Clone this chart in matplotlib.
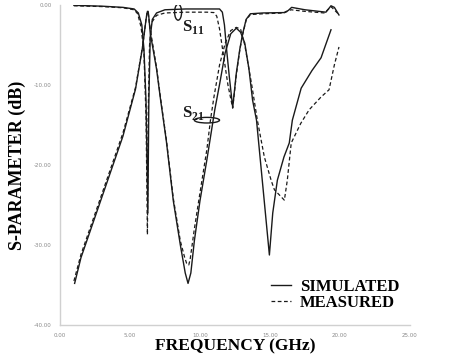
import matplotlib
matplotlib.use("Agg")
import matplotlib.pyplot as plt
from matplotlib.patches import Ellipse

plt.rcParams['axes.unicode_minus'] = False
plt.rcParams['mathtext.fontset'] = 'custom'
plt.rcParams['mathtext.rm'] = 'Liberation Serif'
plt.rcParams['mathtext.bf'] = 'Liberation Serif:bold'

# S21 simulated
s21_sim_f = [1.05, 1.5, 3.0, 4.5, 5.4, 5.9, 6.15, 6.25, 6.3, 6.35, 6.45, 6.9, 7.2, 7.6, 8.1,
             8.6, 8.95, 9.15, 9.35, 9.6, 10.0, 10.5, 11.06, 11.42, 11.8, 12.2, 12.6, 12.9,
             13.2, 13.5, 13.76, 14.04, 14.5, 14.96, 15.2, 15.53, 16.0, 16.38, 16.6, 17.23,
             18.0, 18.65, 19.36]
s21_sim_db = [-34.8, -31.6, -24.0, -16.4, -10.5, -5.3, -1.8, -0.8, -0.8, -1.5, -3.5, -8.0,
              -12.0, -17.0, -24.5, -30.0, -33.5, -34.8, -33.5, -29.5, -24.5, -19.3, -13.1,
              -9.75, -6.0, -3.6, -2.9, -3.4, -4.75, -8.0, -11.9, -14.4, -22.8, -31.25, -26.0,
              -21.9, -19.0, -17.25, -14.4, -10.4, -8.2, -6.6, -3.1]

# S21 measured
s21_meas_f = [1.0, 1.5, 3.0, 4.5, 5.4, 5.9, 6.15, 6.22, 6.3, 6.4, 6.9, 7.2, 7.6, 8.1, 8.6,
              8.9, 9.05, 9.2, 9.3, 9.6, 10.0, 10.5, 10.75, 11.0, 11.4, 11.8, 12.2, 12.6, 12.9,
              13.2, 13.7, 14.1, 14.6, 15.1, 15.32, 16.03, 16.24, 16.52, 17.2, 17.8, 18.65,
              19.22, 19.6, 19.93]
s21_meas_db = [-34.5, -31.2, -23.6, -16.0, -10.3, -5.2, -1.8, -0.9, -0.9, -2.5, -7.8, -11.8,
               -16.8, -24.2, -29.5, -31.5, -32.3, -32.5, -31.8, -28.0, -23.5, -18.0, -14.4,
               -11.5, -7.5, -4.8, -3.2, -2.8, -3.0, -5.0, -10.0, -14.4, -19.0, -22.0, -23.1,
               -24.4, -21.9, -17.25, -14.8, -13.1, -11.5, -10.6, -7.5, -5.25]

# S11 simulated
s11_sim_f = [1.0, 3.0, 4.5, 5.3, 5.6, 5.85, 6.0, 6.15, 6.28, 6.35, 6.45, 6.6, 6.9, 7.5, 9.0,
             10.5, 11.4, 11.6, 11.75, 11.9, 12.1, 12.34, 12.6, 12.85, 13.05, 13.3, 13.6,
             14.5, 16.0, 16.3, 16.55, 17.5, 19.0, 19.36, 19.6, 19.93]
s11_sim_db = [-0.05, -0.15, -0.3, -0.5, -1.0, -2.5, -5.5, -12.0, -26.0, -12.0, -4.0, -1.8,
              -1.0, -0.6, -0.5, -0.5, -0.5, -0.9, -2.5, -5.5, -9.0, -12.8, -8.5, -5.5, -3.6,
              -1.8, -1.1, -1.0, -0.95, -0.7, -0.3, -0.6, -0.9, -0.1, -0.3, -1.25]

# S11 measured
s11_meas_f = [1.0, 3.0, 4.5, 5.3, 5.55, 5.8, 6.0, 6.15, 6.25, 6.3, 6.4, 6.55, 6.9, 7.5, 9.0,
              10.5, 11.0, 11.2, 11.4, 11.7, 12.0, 12.34, 12.6, 12.85, 13.05, 13.3, 13.6, 14.5,
              16.0, 16.5, 17.5, 18.9, 19.36, 19.93]
s11_meas_db = [-0.1, -0.2, -0.35, -0.6, -1.1, -2.8, -6.0, -14.0, -28.7, -14.0, -5.0, -2.2,
               -1.3, -1.0, -0.9, -0.9, -0.95, -1.4, -3.0, -6.5, -10.0, -12.9, -8.7, -5.6,
               -3.7, -1.9, -1.2, -1.1, -1.0, -0.6, -0.8, -1.0, -0.2, -1.2]

x_ticks = [0, 5, 10, 15, 20, 25]
y_ticks = [0, -10, -20, -30, -40]

fig = plt.figure(figsize=(4.54, 3.55), dpi=100)
ax = fig.add_axes([0.132, 0.0845, 0.771, 0.9015])

ax.plot(s21_sim_f, s21_sim_db, color='#1a1a1a', lw=1.0, label='SIMULATED')
ax.plot(s21_meas_f, s21_meas_db, color='#1a1a1a', lw=0.9, ls=(0, (3, 2)), label='MEASURED')
ax.plot(s11_sim_f, s11_sim_db, color='#1a1a1a', lw=1.0)
ax.plot(s11_meas_f, s11_meas_db, color='#1a1a1a', lw=0.9, ls=(0, (3, 2)))

ax.set_xlim(0, 25)
ax.set_ylim(-40, 0)
ax.set_xticks(x_ticks)
ax.set_yticks(y_ticks)
ax.set_xticklabels(['%.2f' % v for v in x_ticks])
ax.set_yticklabels(['%.2f' % v for v in y_ticks])
ax.tick_params(axis='both', labelsize=4, labelcolor='#888888', color='#cccccc', length=0)
ax.tick_params(axis='x', pad=6)
ax.tick_params(axis='y', pad=6)

for s in ['top', 'right']:
    ax.spines[s].set_visible(False)
for s in ['left', 'bottom']:
    ax.spines[s].set_color('#d0d0d0')
    ax.spines[s].set_linewidth(1.0)

serif = 'Liberation Serif'
ax.set_xlabel('FREQUENCY (GHz)', fontsize=12.5, fontweight='bold', family=serif, labelpad=0)
ax.set_ylabel('S-PARAMETER (dB)', fontsize=13, fontweight='bold', family=serif, labelpad=6)

# curve labels with ovals
ax.text(8.75, -3.2, r'$\mathbf{S}_{\mathbf{11}}$', fontsize=12, color='#1a1a1a')
ax.add_patch(Ellipse((8.44, -0.9), 0.5, 2.0, fill=False, ec='#1a1a1a', lw=1.0))
ax.text(8.75, -14.0, r'$\mathbf{S}_{\mathbf{21}}$', fontsize=12, color='#1a1a1a')
ax.add_patch(Ellipse((10.5, -14.4), 1.8, 0.7, fill=False, ec='#1a1a1a', lw=1.0))

leg = ax.legend(loc='upper left', bbox_to_anchor=(0.585, 0.165), frameon=False,
                prop={'family': serif, 'weight': 'bold', 'size': 12},
                handlelength=1.2, handletextpad=0.5, labelspacing=0.0,
                borderaxespad=0)

fig.savefig('out.png', dpi=100, facecolor='white')
